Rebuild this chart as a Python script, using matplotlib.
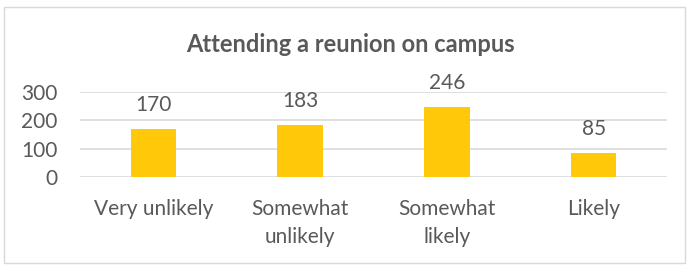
import matplotlib.pyplot as plt
from matplotlib.patches import Rectangle

categories = ['Very unlikely', 'Somewhat\nunlikely', 'Somewhat\nlikely', 'Likely']
counts = [170, 183, 246, 85]
yticks = [0, 100, 200, 300]

plt.rcParams['font.family'] = ['Lato', 'DejaVu Sans']
gray = '#595959'

fig = plt.figure(figsize=(6.89, 2.65), dpi=100)
ax = fig.add_axes([80 / 689, 88 / 265, 587 / 689, 85 / 265])

x = range(len(categories))
ax.bar(x, counts, width=0.31, color='#FFC90A', zorder=3)
for xi, v in zip(x, counts):
    ax.annotate(str(v), (xi, v), xytext=(0, 10), textcoords='offset points',
                ha='center', va='bottom', fontsize=15, color=gray)

ax.set_xlim(-0.5, len(categories) - 0.5)
ax.set_ylim(0, 300)
ax.set_yticks(yticks)
ax.set_xticks(list(x))
ax.set_xticklabels(categories, fontsize=15, color=gray, linespacing=1.5)
ax.tick_params(axis='y', labelsize=15, labelcolor=gray, length=0, pad=16)
ax.tick_params(axis='x', length=0, pad=16)
ax.grid(axis='y', color='#D9D9D9', lw=1.2, zorder=0)
for s in ax.spines.values():
    s.set_visible(False)

fig.text(350 / 689, 1 - 44 / 265, 'Attending a reunion on campus', ha='center', va='center',
         fontsize=17, fontweight='bold', color=gray)

fig.patches.append(Rectangle((4 / 689, 2 / 265), 681 / 689, 256 / 265, transform=fig.transFigure,
                             fill=False, edgecolor='#D9D9D9', lw=1))

fig.savefig('out.png', dpi=100)
